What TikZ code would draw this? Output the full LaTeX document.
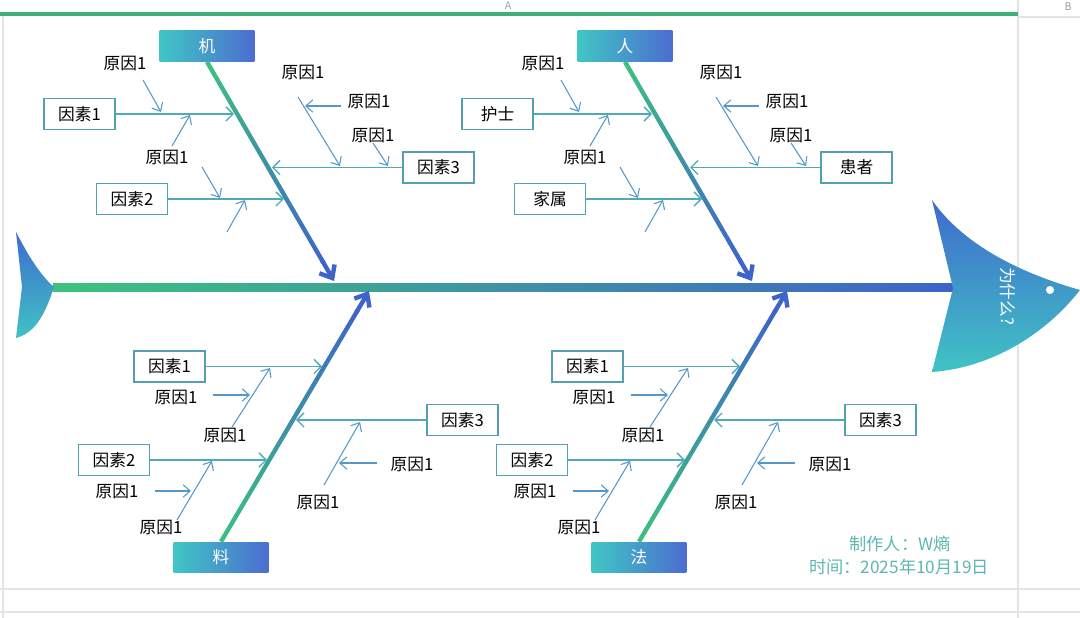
\documentclass[tikz,border=0pt]{standalone}
\usepackage{fontspec}
\setmainfont{Noto Sans CJK SC}
\usetikzlibrary{arrows.meta,calc,positioning}

\definecolor{spinegreen}{HTML}{3DC27E}
\definecolor{spineblue}{HTML}{3E63CA}
\definecolor{boxteal}{HTML}{40C6C5}
\definecolor{boxblue}{HTML}{4C6DD0}
\definecolor{headblue}{HTML}{3F6BCD}
\definecolor{headteal}{HTML}{40C3C4}
\definecolor{linecol}{HTML}{4FAAB6}
\definecolor{arrowcol}{HTML}{5597C6}
\definecolor{boxline}{HTML}{559FB1}
\definecolor{sheetgreen}{HTML}{3DB07A}
\definecolor{gridgrey}{HTML}{E4E4E4}
\definecolor{signcol}{HTML}{5DB7B1}

% shaded bone between two points
\newcommand\fishbone[4]{%
  \shade[top color=#3, bottom color=#4]
    ($(#1)!1.25pt!90:(#2)$) -- ($(#1)!1.25pt!-90:(#2)$) --
    ($(#2)!1.25pt!90:(#1)$) -- ($(#2)!1.25pt!-90:(#1)$) -- cycle;}

\tikzset{
  headbox/.style={left color=boxteal, right color=boxblue, text=white,
    minimum width=1.9cm, minimum height=0.62cm, inner sep=0pt},
  factor/.style={draw=boxline, line width=0.85pt, fill=white,
    minimum width=1.42cm, minimum height=0.62cm, inner sep=0pt},
  reason/.style={inner sep=0pt},
  branch/.style={linecol, line width=0.8pt, -{Straight Barb[length=4pt,width=8pt]}},
  cause/.style={arrowcol, line width=0.6pt, -{Straight Barb[length=4pt,width=7pt]}},
  bonetip/.style={spineblue, line width=2.5pt, -{Straight Barb[length=6pt,width=10pt]}},
  sign/.style={text=signcol, inner sep=0pt, font=\fontsize{9.8pt}{11pt}\selectfont},
  colname/.style={text=gray!80, inner sep=0pt, font=\fontsize{6pt}{7pt}\selectfont},
}

\begin{document}
\begin{tikzpicture}[x=0.02cm,y=-0.02cm,font=\fontsize{9.5pt}{11pt}\selectfont]
\useasboundingbox (0,0) rectangle (1080,618);

% sheet background
\draw[gridgrey, line width=0.6pt] (1018,0) -- (1018,618);
\draw[gridgrey, line width=0.6pt] (3,16) -- (3,618);
\draw[gridgrey, line width=0.6pt] (0,589) -- (1080,589);
\draw[gridgrey, line width=0.6pt] (0,612) -- (1080,612);
\draw[gridgrey, line width=0.6pt] (1018,17) -- (1080,17);
\draw[sheetgreen, line width=2.5pt] (0,14) -- (1018,14);
\node[colname] (colA) at (508,6) {A};
\node[colname] (colB) at (1068,7) {B};

% spine, tail and head
\shade[left color=spinegreen, right color=spineblue] (53,284) rectangle (956,292);
\shade[top color=headblue, bottom color=headteal]
  (16,232) .. controls (28,255) and (40,275) .. (54,287)
  .. controls (45,315) and (35,333) .. (16,338) -- (22,287) -- cycle;
\shade[top color=headblue, bottom color=headteal]
  (932,200) .. controls (960,240) and (1010,270) .. (1080,290)
  .. controls (1045,335) and (990,368) .. (932,372) -- (953,288) -- cycle;
\node[rotate=-90, text=white, inner sep=0pt] (why) at (1008,296) {为什么?};
\node[circle, fill=white, minimum size=4.6pt, inner sep=0pt] (eye) at (1050,290) {};

% upper bones
\foreach \dx/\hd/\fa/\fb/\fc [count=\n] in {0/机/因素1/因素2/因素3, 418/人/护士/家属/患者} {
  \node[headbox] (up\n) at (207+\dx,46) {\hd};
  \coordinate (uptip\n) at (334+\dx,281);
  \coordinate (upend\n) at ($(uptip\n)!12pt!(up\n.south)$);
  \coordinate (upstub\n) at ($(uptip\n)!14pt!(up\n.south)$);
  \fishbone{up\n.south}{upend\n}{spinegreen}{spineblue}
  \draw[bonetip] (upstub\n) -- (uptip\n);

  \node[factor] (fa\n) at (79.5+\dx,114) {\fa};
  \node[factor] (fb\n) at (132+\dx,199) {\fb};
  \node[factor] (fc\n) at (438.5+\dx,167.5) {\fc};
  \coordinate (ja\n) at (234+\dx,114);
  \coordinate (jb\n) at (284+\dx,199);
  \coordinate (jc\n) at (272+\dx,167.5);
  \draw[branch] (fa\n) -- (ja\n);
  \draw[branch] (fb\n) -- (jb\n);
  \draw[branch] (fc\n) -- (jc\n);

  \node[reason] (ra\n) at (125+\dx,63) {原因1};
  \node[reason] (rb\n) at (167+\dx,157) {原因1};
  \node[reason] (rc\n) at (303+\dx,72) {原因1};
  \node[reason] (rd\n) at (369+\dx,101) {原因1};
  \node[reason] (re\n) at (373+\dx,135) {原因1};
  \coordinate (as\n) at (143+\dx,80);  \coordinate (ae\n) at (161+\dx,112);
  \coordinate (bs\n) at (172+\dx,146); \coordinate (be\n) at (190+\dx,115);
  \coordinate (cs\n) at (202+\dx,167); \coordinate (ce\n) at (220+\dx,198);
  \coordinate (ds\n) at (227+\dx,232); \coordinate (de\n) at (245+\dx,200);
  \coordinate (es\n) at (298+\dx,97);  \coordinate (ee\n) at (340+\dx,166);
  \coordinate (fs\n) at (341+\dx,106); \coordinate (fe\n) at (305+\dx,106);
  \coordinate (gs\n) at (373+\dx,143); \coordinate (ge\n) at (388+\dx,166);
  \draw[cause] (as\n) -- (ae\n);
  \draw[cause] (bs\n) -- (be\n);
  \draw[cause] (cs\n) -- (ce\n);
  \draw[cause] (ds\n) -- (de\n);
  \draw[cause] (es\n) -- (ee\n);
  \draw[cause] (fs\n) -- (fe\n);
  \draw[cause] (gs\n) -- (ge\n);
}

% lower bones
\foreach \dx/\hd [count=\n] in {0/料, 418/法} {
  \node[headbox] (dn\n) at (221+\dx,557.5) {\hd};
  \coordinate (dntip\n) at (369+\dx,291);
  \coordinate (dnend\n) at ($(dntip\n)!12pt!(dn\n.north)$);
  \coordinate (dnstub\n) at ($(dntip\n)!14pt!(dn\n.north)$);
  \fishbone{dn\n.north}{dnend\n}{spineblue}{spinegreen}
  \draw[bonetip] (dnstub\n) -- (dntip\n);

  \node[factor] (ga\n) at (169.5+\dx,366.5) {因素1};
  \node[factor] (gb\n) at (114+\dx,460) {因素2};
  \node[factor] (gc\n) at (462.5+\dx,420) {因素3};
  \coordinate (ka\n) at (322+\dx,366.5);
  \coordinate (kb\n) at (267+\dx,460);
  \coordinate (kc\n) at (296+\dx,420);
  \draw[branch] (ga\n) -- (ka\n);
  \draw[branch] (gb\n) -- (kb\n);
  \draw[branch] (gc\n) -- (kc\n);

  \node[reason] (sa\n) at (176+\dx,397) {原因1};
  \node[reason] (sb\n) at (225+\dx,435) {原因1};
  \node[reason] (sc\n) at (117+\dx,491) {原因1};
  \node[reason] (sd\n) at (161+\dx,527) {原因1};
  \node[reason] (se\n) at (318+\dx,502) {原因1};
  \node[reason] (sf\n) at (412+\dx,464) {原因1};
  \coordinate (ps\n) at (213+\dx,395); \coordinate (pe\n) at (250+\dx,395);
  \coordinate (qs\n) at (232+\dx,427); \coordinate (qe\n) at (270+\dx,368);
  \coordinate (us\n) at (155+\dx,491); \coordinate (ue\n) at (191+\dx,491);
  \coordinate (vs\n) at (177+\dx,520); \coordinate (ve\n) at (212+\dx,461);
  \coordinate (ws\n) at (324+\dx,485); \coordinate (we\n) at (360+\dx,422);
  \coordinate (zs\n) at (377+\dx,463); \coordinate (ze\n) at (339+\dx,463);
  \draw[cause] (ps\n) -- (pe\n);
  \draw[cause] (qs\n) -- (qe\n);
  \draw[cause] (us\n) -- (ue\n);
  \draw[cause] (vs\n) -- (ve\n);
  \draw[cause] (ws\n) -- (we\n);
  \draw[cause] (zs\n) -- (ze\n);
}

% signature
\node[sign] (maker) at (900,544) {制作人：W熵};
\node[sign] (date) at (899,567) {时间：2025年10月19日};
\end{tikzpicture}
\end{document}
